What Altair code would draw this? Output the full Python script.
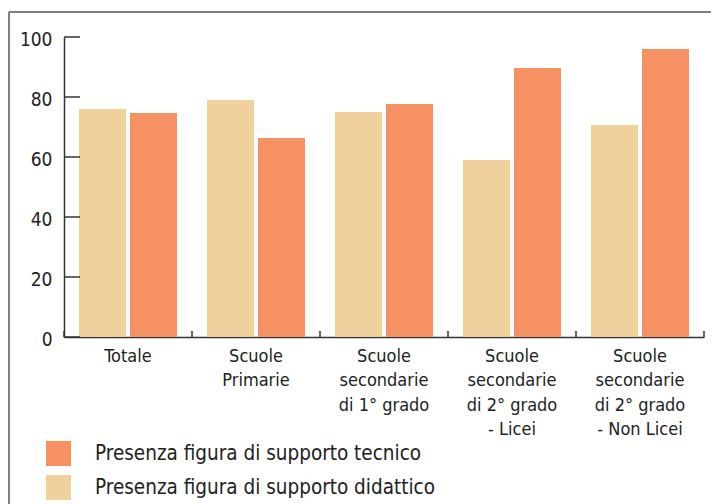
import altair as alt
import pandas as pd

categories = [
    "Totale",
    "Scuole|Primarie",
    "Scuole|secondarie|di 1° grado",
    "Scuole|secondarie|di 2° grado|- Licei",
    "Scuole|secondarie|di 2° grado|- Non Licei",
]
series = ["Presenza figura di supporto didattico", "Presenza figura di supporto tecnico"]
didattico = [76.0, 79.0, 75.0, 59.0, 70.7]
tecnico = [74.7, 66.3, 77.7, 89.7, 96.0]
y_ticks = [0, 20, 40, 60, 80, 100]
colors = ["#F0D09C", "#F69163"]

rows = []
for c, d, t in zip(categories, didattico, tecnico):
    rows.append({"cat": c, "serie": series[0], "val": d})
    rows.append({"cat": c, "serie": series[1], "val": t})
df = pd.DataFrame(rows)

FONT = "DejaVu Sans Condensed"
TXT = "#222222"
AX = "#333333"

xscale = alt.Scale(domain=categories, paddingInner=0, paddingOuter=0)
yscale = alt.Scale(domain=[0, 100], nice=False)

bars = alt.Chart(df).mark_bar().encode(
    x=alt.X(
        "cat:N",
        scale=xscale,
        sort=categories,
        axis=alt.Axis(
            title=None,
            ticks=False,
            labelAngle=0,
            labelExpr="split(datum.label, '|')",
            labelFont=FONT,
            labelFontSize=18,
            labelLineHeight=24.5,
            labelPadding=10,
            labelColor=TXT,
            domainColor=AX,
            domainWidth=1.5,
        ),
    ),
    xOffset=alt.XOffset(
        "serie:N", sort=series, scale=alt.Scale(paddingInner=0.078, paddingOuter=0.294)
    ),
    y=alt.Y(
        "val:Q",
        scale=yscale,
        axis=alt.Axis(
            title=None,
            values=y_ticks,
            ticks=False,
            grid=False,
            labelFont=FONT,
            labelFontSize=19,
            labelPadding=12,
            labelOffset=2,
            labelColor=TXT,
            domainColor=AX,
            domainWidth=1.5,
        ),
    ),
    color=alt.Color(
        "serie:N",
        scale=alt.Scale(domain=[series[1], series[0]], range=[colors[1], colors[0]]),
        legend=alt.Legend(
            title=None,
            orient="none",
            legendX=-18,
            legendY=404,
            symbolType="square",
            symbolSize=625,
            symbolStrokeWidth=0,
            symbolOpacity=1,
            labelFont=FONT,
            labelFontSize=20.5,
            labelColor=TXT,
            labelOffset=24,
            labelLimit=500,
            rowPadding=9,
            padding=0,
        ),
    ),
)

ytick_df = pd.DataFrame({"v": y_ticks})
yticks = alt.Chart(ytick_df).mark_rule(color=AX, strokeWidth=1.5).encode(
    y=alt.Y("v:Q", scale=yscale),
    x=alt.value(0),
    x2=alt.value(16),
)

xtick_df = pd.DataFrame({"cat": categories})
xticks = alt.Chart(xtick_df).mark_rule(color=AX, strokeWidth=1.5).encode(
    x=alt.X("cat:N", scale=xscale, sort=categories, bandPosition=0),
    y=alt.value(300),
    y2=alt.value(294),
)
xtick_end = alt.Chart(pd.DataFrame({"a": [0]})).mark_rule(color=AX, strokeWidth=1.5).encode(
    x=alt.value(640), y=alt.value(300), y2=alt.value(294)
)

frame_df = pd.DataFrame({"a": [0]})
frame_left = alt.Chart(frame_df).mark_rule(color="#555555", strokeWidth=1.5).encode(
    x=alt.value(-55), y=alt.value(-25), y2=alt.value(480)
)
frame_top = alt.Chart(frame_df).mark_rule(color="#555555", strokeWidth=1.5).encode(
    y=alt.value(-25), x=alt.value(-55), x2=alt.value(700)
)

chart = alt.layer(bars, yticks, xticks, xtick_end, frame_left, frame_top).properties(
    width=640,
    height=300,
    autosize=alt.AutoSizeParams(type="none"),
    padding={"left": 56, "top": 29, "right": 7, "bottom": 167},
).configure_view(stroke=None)

chart.save("out.html", embed_options={"renderer": "svg", "actions": False})
